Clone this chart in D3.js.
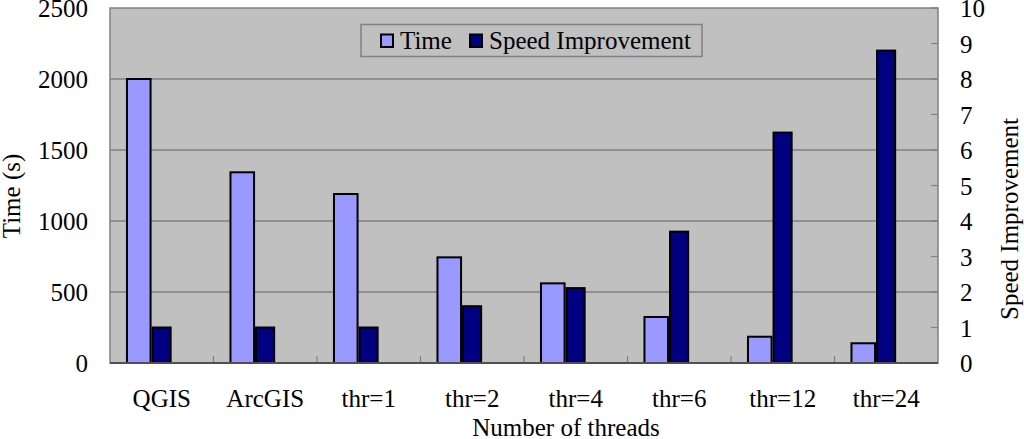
<!DOCTYPE html>
<html>
<head>
<meta charset="utf-8">
<script src="https://cdn.jsdelivr.net/npm/d3@7"></script>
<style>
  body { margin: 0; background: white; }
  text { font-family: "Liberation Serif", "Times New Roman", serif; fill: black; }
</style>
</head>
<body>
<div id="container"></div>
<script>
const categories = ["QGIS", "ArcGIS", "thr=1", "thr=2", "thr=4", "thr=6", "thr=12", "thr=24"];
const timeValues = [2000, 1343, 1190, 744, 561, 324, 185, 139];
const speedValues = [1, 1, 1, 1.6, 2.11, 3.7, 6.49, 8.8];
const leftTicks = [0, 500, 1000, 1500, 2000, 2500];
const rightTicks = [0, 1, 2, 3, 4, 5, 6, 7, 8, 9, 10];

const w = 1024;
const h = 439;
const plotLeft = 110;
const plotRight = 938;
const plotTop = 8;
const plotBottom = 363;

const svg = d3
  .select("#container")
  .append("svg")
  .attr("width", w)
  .attr("height", h)
  .attr("viewBox", `0 0 ${w} ${h}`);

const xScale = d3.scaleBand().domain(categories).range([plotLeft, plotRight]).padding(0);
const yLeft = d3.scaleLinear().domain([0, 2500]).range([plotBottom, plotTop]);
const yRight = d3.scaleLinear().domain([0, 10]).range([plotBottom, plotTop]);
const bw = xScale.bandwidth();

// plot background
svg
  .append("rect")
  .attr("x", plotLeft)
  .attr("y", plotTop)
  .attr("width", plotRight - plotLeft)
  .attr("height", plotBottom - plotTop)
  .attr("fill", "#c0c0c0")
  .attr("stroke", "#808080")
  .attr("stroke-width", 1.5);

// gridlines
svg
  .append("g")
  .selectAll("line")
  .data(leftTicks.slice(1, -1))
  .enter()
  .append("line")
  .attr("x1", plotLeft)
  .attr("x2", plotRight)
  .attr("y1", (d) => yLeft(d))
  .attr("y2", (d) => yLeft(d))
  .attr("stroke", "#808080")
  .attr("stroke-width", 1.5);

// right axis ticks (inside)
svg
  .append("g")
  .selectAll("line")
  .data(rightTicks)
  .enter()
  .append("line")
  .attr("x1", plotRight - 7)
  .attr("x2", plotRight)
  .attr("y1", (d) => yRight(d))
  .attr("y2", (d) => yRight(d))
  .attr("stroke", "#808080")
  .attr("stroke-width", 1.2);

// category tick marks
svg
  .append("g")
  .selectAll("line")
  .data(categories.slice(1))
  .enter()
  .append("line")
  .attr("x1", (d) => xScale(d))
  .attr("x2", (d) => xScale(d))
  .attr("y1", plotBottom - 7)
  .attr("y2", plotBottom)
  .attr("stroke", "#808080")
  .attr("stroke-width", 1.2);

// bars
svg
  .append("g")
  .selectAll("rect")
  .data(timeValues)
  .enter()
  .append("rect")
  .attr("x", (d, i) => xScale(categories[i]) + bw * 0.164)
  .attr("width", bw * 0.228)
  .attr("y", (d) => yLeft(d))
  .attr("height", (d) => yLeft(0) - yLeft(d))
  .attr("fill", "#9999ff")
  .attr("stroke", "black")
  .attr("stroke-width", 2);

svg
  .append("g")
  .selectAll("rect")
  .data(speedValues)
  .enter()
  .append("rect")
  .attr("x", (d, i) => xScale(categories[i]) + bw * 0.411)
  .attr("width", bw * 0.175)
  .attr("y", (d) => yRight(d))
  .attr("height", (d) => yRight(0) - yRight(d))
  .attr("fill", "#000080")
  .attr("stroke", "black")
  .attr("stroke-width", 2);

// bottom axis line
svg
  .append("line")
  .attr("x1", plotLeft)
  .attr("x2", plotRight)
  .attr("y1", plotBottom)
  .attr("y2", plotBottom)
  .attr("stroke", "#505050")
  .attr("stroke-width", 2);

// left tick labels
svg
  .append("g")
  .selectAll("text")
  .data(leftTicks)
  .enter()
  .append("text")
  .attr("x", 88)
  .attr("y", (d) => yLeft(d) + 9)
  .attr("text-anchor", "end")
  .attr("font-size", 25)
  .text((d) => d);

// right tick labels
svg
  .append("g")
  .selectAll("text")
  .data(rightTicks)
  .enter()
  .append("text")
  .attr("x", 960)
  .attr("y", (d) => yRight(d) + 9)
  .attr("text-anchor", "start")
  .attr("font-size", 25)
  .text((d) => d);

// category labels
svg
  .append("g")
  .selectAll("text")
  .data(categories)
  .enter()
  .append("text")
  .attr("x", (d) => xScale(d) + bw / 2)
  .attr("y", 407)
  .attr("text-anchor", "middle")
  .attr("font-size", 25)
  .text((d) => d);

// axis titles
svg
  .append("text")
  .attr("x", 566)
  .attr("y", 436)
  .attr("text-anchor", "middle")
  .attr("font-size", 25)
  .text("Number of threads");

svg
  .append("text")
  .attr("text-anchor", "middle")
  .attr("transform", `translate(20, 196) rotate(-90)`)
  .attr("font-size", 25)
  .text("Time (s)");

svg
  .append("text")
  .attr("text-anchor", "middle")
  .attr("transform", `translate(1018, 219) rotate(-90)`)
  .attr("font-size", 25)
  .text("Speed Improvement");

// legend
const legend = svg.append("g");
legend
  .append("rect")
  .attr("x", 361)
  .attr("y", 24.5)
  .attr("width", 341)
  .attr("height", 32)
  .attr("fill", "#c0c0c0")
  .attr("stroke", "#808080")
  .attr("stroke-width", 1.5);

const legendItems = [
  { label: "Time", color: "#9999ff", x: 381 },
  { label: "Speed Improvement", color: "#000080", x: 470 },
];

legend
  .selectAll("g.item")
  .data(legendItems)
  .enter()
  .append("g")
  .attr("class", "item")
  .each(function (d) {
    const g = d3.select(this);
    g.append("rect")
      .attr("x", d.x)
      .attr("y", 34.5)
      .attr("width", 12)
      .attr("height", 12.5)
      .attr("fill", d.color)
      .attr("stroke", "black")
      .attr("stroke-width", 2);
    g.append("text")
      .attr("x", d.x + 19)
      .attr("y", 49)
      .attr("font-size", 25)
      .text(d.label);
  });
</script>
</body>
</html>
